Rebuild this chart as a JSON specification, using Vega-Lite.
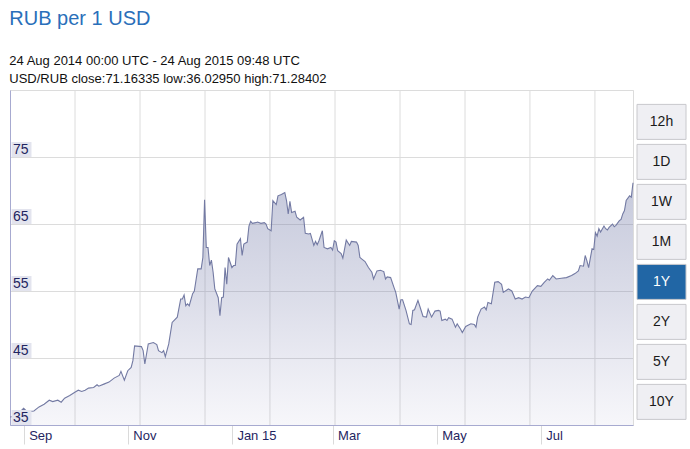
{
  "$schema": "https://vega.github.io/schema/vega-lite/v6.json",
  "padding": {"left": 7, "top": 9, "right": 6, "bottom": 0},
  "background": "white",
  "config": {
    "font": "Liberation Sans",
    "concat": {"spacing": 0},
    "view": {"stroke": "#dcdcdc"}
  },
  "title": {
    "text": "RUB per 1 USD",
    "subtitle": ["24 Aug 2014 00:00 UTC - 24 Aug 2015 09:48 UTC", "USD/RUB close:71.16335 low:36.02950 high:71.28402"],
    "anchor": "start",
    "font": "Liberation Sans",
    "fontSize": 20,
    "fontWeight": "normal",
    "color": "#2a6fba",
    "subtitleFont": "Liberation Sans",
    "subtitleFontSize": 13,
    "subtitleColor": "#111111",
    "subtitleLineHeight": 18,
    "subtitlePadding": 26,
    "offset": 3,
    "dx": 2
  },
  "datasets": {
    "rub": [
      {"d":"2014-08-24","v":36.2},{"d":"2014-08-27","v":36.3},{"d":"2014-09-01","v":37.5},{"d":"2014-09-03","v":37.0},
      {"d":"2014-09-07","v":37.1},{"d":"2014-09-10","v":37.7},{"d":"2014-09-13","v":38.1},{"d":"2014-09-16","v":38.7},
      {"d":"2014-09-18","v":38.5},{"d":"2014-09-21","v":38.7},{"d":"2014-09-23","v":38.4},{"d":"2014-09-25","v":39.0},
      {"d":"2014-09-28","v":39.4},{"d":"2014-10-01","v":39.9},{"d":"2014-10-03","v":40.2},{"d":"2014-10-05","v":40.0},
      {"d":"2014-10-07","v":40.2},{"d":"2014-10-09","v":40.5},{"d":"2014-10-12","v":40.6},{"d":"2014-10-14","v":41.0},
      {"d":"2014-10-15","v":40.8},{"d":"2014-10-18","v":41.1},{"d":"2014-10-21","v":41.4},{"d":"2014-10-24","v":42.0},
      {"d":"2014-10-27","v":42.4},{"d":"2014-10-28","v":43.0},{"d":"2014-10-30","v":41.7},{"d":"2014-11-01","v":43.1},
      {"d":"2014-11-03","v":43.6},{"d":"2014-11-04","v":44.6},{"d":"2014-11-05","v":46.8},{"d":"2014-11-09","v":46.7},
      {"d":"2014-11-10","v":46.1},{"d":"2014-11-11","v":44.1},{"d":"2014-11-13","v":47.1},{"d":"2014-11-16","v":47.3},
      {"d":"2014-11-18","v":47.0},{"d":"2014-11-19","v":46.1},{"d":"2014-11-21","v":45.8},{"d":"2014-11-22","v":46.1},
      {"d":"2014-11-23","v":45.2},{"d":"2014-11-25","v":47.1},{"d":"2014-11-27","v":50.3},{"d":"2014-11-30","v":51.1},
      {"d":"2014-12-02","v":53.8},{"d":"2014-12-03","v":53.8},{"d":"2014-12-04","v":54.4},{"d":"2014-12-05","v":52.8},
      {"d":"2014-12-06","v":53.1},{"d":"2014-12-07","v":52.8},{"d":"2014-12-09","v":54.6},{"d":"2014-12-10","v":55.0},
      {"d":"2014-12-12","v":58.3},{"d":"2014-12-14","v":58.3},{"d":"2014-12-15","v":60.0},{"d":"2014-12-16","v":68.6},
      {"d":"2014-12-17","v":61.5},{"d":"2014-12-18","v":61.5},{"d":"2014-12-19","v":58.8},{"d":"2014-12-20","v":59.6},
      {"d":"2014-12-21","v":57.8},{"d":"2014-12-22","v":55.3},{"d":"2014-12-24","v":54.0},{"d":"2014-12-25","v":51.3},
      {"d":"2014-12-26","v":54.0},{"d":"2014-12-27","v":54.1},{"d":"2014-12-28","v":58.5},{"d":"2014-12-29","v":56.0},
      {"d":"2014-12-30","v":60.0},{"d":"2015-01-01","v":58.5},{"d":"2015-01-02","v":58.8},{"d":"2015-01-03","v":58.8},
      {"d":"2015-01-04","v":62.0},{"d":"2015-01-06","v":62.8},{"d":"2015-01-07","v":60.3},{"d":"2015-01-08","v":62.0},
      {"d":"2015-01-10","v":62.3},{"d":"2015-01-11","v":64.7},{"d":"2015-01-12","v":65.4},{"d":"2015-01-13","v":65.1},
      {"d":"2015-01-15","v":65.2},{"d":"2015-01-16","v":65.3},{"d":"2015-01-18","v":65.1},{"d":"2015-01-20","v":65.2},
      {"d":"2015-01-21","v":65.0},{"d":"2015-01-22","v":64.3},{"d":"2015-01-24","v":64.0},{"d":"2015-01-25","v":68.5},
      {"d":"2015-01-27","v":67.9},{"d":"2015-01-28","v":69.2},{"d":"2015-01-30","v":69.4},{"d":"2015-02-01","v":69.7},
      {"d":"2015-02-02","v":68.5},{"d":"2015-02-03","v":66.5},{"d":"2015-02-04","v":68.4},{"d":"2015-02-05","v":66.7},
      {"d":"2015-02-07","v":66.9},{"d":"2015-02-08","v":66.0},{"d":"2015-02-10","v":65.6},{"d":"2015-02-12","v":66.0},
      {"d":"2015-02-13","v":63.6},{"d":"2015-02-15","v":63.5},{"d":"2015-02-16","v":63.6},{"d":"2015-02-18","v":61.8},
      {"d":"2015-02-19","v":62.4},{"d":"2015-02-20","v":61.9},{"d":"2015-02-21","v":62.5},{"d":"2015-02-23","v":64.0},
      {"d":"2015-02-24","v":61.5},{"d":"2015-02-26","v":61.3},{"d":"2015-02-28","v":61.5},{"d":"2015-03-01","v":61.1},
      {"d":"2015-03-02","v":62.5},{"d":"2015-03-03","v":62.3},{"d":"2015-03-04","v":61.0},{"d":"2015-03-06","v":60.6},
      {"d":"2015-03-07","v":59.9},{"d":"2015-03-09","v":62.6},{"d":"2015-03-11","v":61.8},{"d":"2015-03-12","v":62.4},
      {"d":"2015-03-15","v":62.3},{"d":"2015-03-16","v":61.8},{"d":"2015-03-17","v":60.0},{"d":"2015-03-18","v":59.8},
      {"d":"2015-03-20","v":59.4},{"d":"2015-03-22","v":58.5},{"d":"2015-03-24","v":57.8},{"d":"2015-03-25","v":56.8},
      {"d":"2015-03-27","v":58.0},{"d":"2015-03-29","v":58.1},{"d":"2015-03-31","v":57.9},{"d":"2015-04-01","v":56.8},
      {"d":"2015-04-02","v":57.1},{"d":"2015-04-04","v":57.0},{"d":"2015-04-06","v":55.5},{"d":"2015-04-07","v":54.8},
      {"d":"2015-04-09","v":52.3},{"d":"2015-04-10","v":53.7},{"d":"2015-04-11","v":53.7},{"d":"2015-04-13","v":52.1},
      {"d":"2015-04-15","v":50.1},{"d":"2015-04-16","v":50.0},{"d":"2015-04-17","v":52.1},{"d":"2015-04-18","v":52.2},
      {"d":"2015-04-20","v":53.6},{"d":"2015-04-21","v":52.8},{"d":"2015-04-23","v":51.2},{"d":"2015-04-25","v":51.1},
      {"d":"2015-04-26","v":52.3},{"d":"2015-04-28","v":51.1},{"d":"2015-04-30","v":52.0},{"d":"2015-05-02","v":52.1},
      {"d":"2015-05-03","v":52.0},{"d":"2015-05-04","v":50.6},{"d":"2015-05-06","v":50.8},{"d":"2015-05-07","v":50.6},
      {"d":"2015-05-08","v":51.0},{"d":"2015-05-10","v":50.8},{"d":"2015-05-12","v":49.6},{"d":"2015-05-13","v":50.1},
      {"d":"2015-05-15","v":49.3},{"d":"2015-05-16","v":48.8},{"d":"2015-05-18","v":49.7},{"d":"2015-05-21","v":50.1},
      {"d":"2015-05-23","v":50.0},{"d":"2015-05-24","v":49.6},{"d":"2015-05-25","v":51.1},{"d":"2015-05-27","v":52.3},
      {"d":"2015-05-29","v":52.6},{"d":"2015-05-30","v":52.2},{"d":"2015-05-31","v":53.3},{"d":"2015-06-02","v":53.1},
      {"d":"2015-06-04","v":56.3},{"d":"2015-06-06","v":56.4},{"d":"2015-06-08","v":56.0},{"d":"2015-06-09","v":54.8},
      {"d":"2015-06-12","v":55.3},{"d":"2015-06-14","v":55.0},{"d":"2015-06-16","v":53.8},{"d":"2015-06-18","v":54.0},
      {"d":"2015-06-20","v":53.8},{"d":"2015-06-22","v":54.1},{"d":"2015-06-24","v":54.0},{"d":"2015-06-26","v":55.0},
      {"d":"2015-06-29","v":55.8},{"d":"2015-07-01","v":55.7},{"d":"2015-07-03","v":56.3},{"d":"2015-07-05","v":56.8},
      {"d":"2015-07-06","v":56.6},{"d":"2015-07-08","v":57.3},{"d":"2015-07-10","v":56.8},{"d":"2015-07-13","v":56.9},
      {"d":"2015-07-16","v":57.0},{"d":"2015-07-19","v":57.3},{"d":"2015-07-21","v":57.6},{"d":"2015-07-23","v":58.0},
      {"d":"2015-07-24","v":58.8},{"d":"2015-07-26","v":58.7},{"d":"2015-07-27","v":60.3},{"d":"2015-07-28","v":59.5},
      {"d":"2015-07-29","v":58.5},{"d":"2015-07-31","v":61.3},{"d":"2015-08-01","v":61.2},{"d":"2015-08-02","v":63.7},
      {"d":"2015-08-03","v":63.2},{"d":"2015-08-04","v":64.3},{"d":"2015-08-05","v":63.8},{"d":"2015-08-07","v":64.7},
      {"d":"2015-08-08","v":64.3},{"d":"2015-08-09","v":64.1},{"d":"2015-08-10","v":64.5},{"d":"2015-08-12","v":65.0},
      {"d":"2015-08-13","v":64.6},{"d":"2015-08-14","v":64.8},{"d":"2015-08-16","v":65.5},{"d":"2015-08-17","v":65.7},
      {"d":"2015-08-18","v":66.5},{"d":"2015-08-19","v":67.0},{"d":"2015-08-20","v":68.5},{"d":"2015-08-22","v":69.2},
      {"d":"2015-08-23","v":69.0},{"d":"2015-08-24","v":71.16}
    ],
    "vgrid": [
      {"g":"2014-10-01T02:00:00Z"},{"g":"2014-11-08T04:00:00Z"},{"g":"2014-12-16T06:00:00Z"},
      {"g":"2015-01-23T07:00:00Z"},{"g":"2015-03-02T10:00:00Z"},{"g":"2015-04-09T12:00:00Z"},
      {"g":"2015-05-17T14:00:00Z"},{"g":"2015-06-24T15:00:00Z"},{"g":"2015-08-01T17:00:00Z"}
    ],
    "ticks": [{"t": 35}, {"t": 45}, {"t": 55}, {"t": 65}, {"t": 75}],
    "buttons": [{"b":"12h"},{"b":"1D"},{"b":"1W"},{"b":"1M"},{"b":"1Y"},{"b":"2Y"},{"b":"5Y"},{"b":"10Y"}]
  },
  "hconcat": [
    {
      "width": 623,
      "height": 335,
      "layer": [
        {
          "data": {"name": "vgrid"},
          "mark": {"type": "rule", "color": "#dcdcdc", "strokeWidth": 1},
          "encoding": {
            "x": {
              "field": "g", "type": "temporal",
              "scale": {"type": "utc", "domain": [{"year": 2014, "month": 8, "date": 24, "utc": true}, {"year": 2015, "month": 8, "date": 24, "utc": true}]},
              "axis": {
                "orient": "bottom",
                "title": null,
                "values": [
                  {"year": 2014, "month": 9, "date": 1, "utc": true},
                  {"year": 2014, "month": 11, "date": 1, "utc": true},
                  {"year": 2015, "month": 1, "date": 1, "utc": true},
                  {"year": 2015, "month": 3, "date": 1, "utc": true},
                  {"year": 2015, "month": 5, "date": 1, "utc": true},
                  {"year": 2015, "month": 7, "date": 1, "utc": true}
                ],
                "labelExpr": "utcmonth(datum.value) == 0 ? utcFormat(datum.value, '%b %y') : utcFormat(datum.value, '%b')",
                "labelAlign": "left",
                "labelBaseline": "alphabetic",
                "labelOffset": 5,
                "labelPadding": -5,
                "labelFontSize": 13,
                "labelColor": "#1f2561",
                "labelFont": "Liberation Sans",
                "labelOverlap": false,
                "labelFlush": false,
                "tickSize": 19,
                "tickColor": "#dadada",
                "domainColor": "#a7aad0",
                "grid": false
              }
            }
          }
        },
        {
          "data": {"name": "rub"},
          "mark": {
            "type": "area",
            "line": false,
            "opacity": 1,
            "clip": true,
            "color": {
              "gradient": "linear", "x1": 0, "y1": 0, "x2": 0, "y2": 1,
              "stops": [
                {"offset": 0, "color": "rgba(112,121,166,0.4)"},
                {"offset": 0.5, "color": "rgba(118,124,170,0.25)"},
                {"offset": 1, "color": "rgba(135,135,185,0.07)"}
              ]
            }
          },
          "encoding": {
            "x": {"field": "d", "type": "temporal"},
            "y": {
              "field": "v", "type": "quantitative",
              "scale": {"domain": [35, 85], "nice": false, "zero": false},
              "axis": {
                "title": null,
                "values": [35, 45, 55, 65, 75, 85],
                "labels": false,
                "ticks": false,
                "grid": true,
                "gridColor": "#dcdcdc",
                "domainColor": "#a7aad0"
              }
            },
            "y2": {"datum": 35}
          }
        },
        {
          "data": {"name": "rub"},
          "mark": {"type": "line", "color": "#737aa3", "strokeWidth": 1.1},
          "encoding": {
            "x": {"field": "d", "type": "temporal"},
            "y": {"field": "v", "type": "quantitative"}
          }
        },
        {
          "data": {"name": "ticks"},
          "mark": {
            "type": "point",
            "shape": "M1.5,-15 L21.5,-15 L21.5,0 L1.5,0 Z",
            "size": 4,
            "filled": true,
            "opacity": 1,
            "color": "#e3e4ee",
            "strokeWidth": 0
          },
          "encoding": {
            "x": {"datum": {"year": 2014, "month": 8, "date": 24, "utc": true}, "type": "temporal"},
            "y": {"field": "t", "type": "quantitative"}
          }
        },
        {
          "data": {"name": "ticks"},
          "mark": {
            "type": "text",
            "align": "left",
            "baseline": "alphabetic",
            "dx": 3,
            "dy": -3.5,
            "fontSize": 14,
            "font": "Liberation Sans",
            "color": "#1f2561"
          },
          "encoding": {
            "x": {"datum": {"year": 2014, "month": 8, "date": 24, "utc": true}, "type": "temporal"},
            "y": {"field": "t", "type": "quantitative"},
            "text": {"field": "t", "type": "quantitative"}
          }
        }
      ]
    },
    {
      "width": 49,
      "height": 335,
      "view": {"stroke": null},
      "data": {"name": "buttons"},
      "layer": [
        {
          "mark": {"type": "rect", "stroke": "#c8c8cc", "strokeWidth": 1},
          "encoding": {
            "y": {
              "field": "b", "type": "nominal",
              "sort": null,
              "scale": {"paddingInner": 0.125, "paddingOuter": 0.25, "align": 0.72},
              "axis": null
            },
            "color": {
              "condition": {"test": "datum.b === '1Y'", "value": "#2166a5"},
              "value": "#efeff3"
            }
          }
        },
        {
          "mark": {"type": "text", "fontSize": 14, "font": "Liberation Sans", "baseline": "middle", "align": "center"},
          "encoding": {
            "y": {"field": "b", "type": "nominal", "sort": null},
            "text": {"field": "b", "type": "nominal"},
            "color": {
              "condition": {"test": "datum.b === '1Y'", "value": "#ffffff"},
              "value": "#1a1a1a"
            }
          }
        }
      ]
    }
  ]
}
